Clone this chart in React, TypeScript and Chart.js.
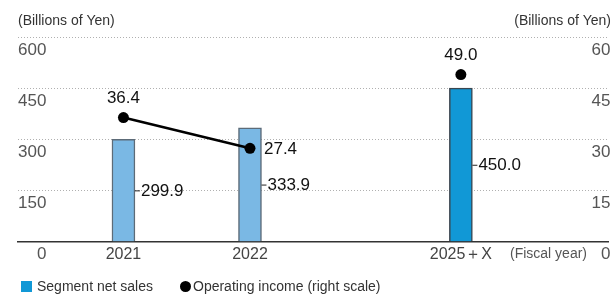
import React, { useEffect, useRef } from "react";
import { Chart, registerables } from "chart.js";

Chart.register(...registerables);

const categories = ["2021", "2022", "2025＋X"];
const salesValues = [299.9, 333.9, 450.0];
const incomeValues = [36.4, 27.4, 49.0];
// x-axis tick labels (blank slots give the uneven spacing of the fiscal years)
const tickLabels = ["", "", "2021", "", "", "2022", "", "", "", "", "2025＋X", "", "", ""];
const leftTicks = [0, 150, 300, 450, 600];
const rightTicks = [0, 15, 30, 45, 60];

const FONT = "'Liberation Sans', Arial, sans-serif";
const LIGHT = "#7ab8e4";
const DARK = "#1198d6";

export default function App() {
  const ref = useRef<HTMLCanvasElement | null>(null);

  useEffect(() => {
    document.body.style.margin = "0";
    const canvas = ref.current;
    if (!canvas) return;

    const slotIndex = categories.map((c) => tickLabels.indexOf(c));
    const salesData: (number | null)[] = tickLabels.map(() => null);
    const actualIncome: (number | null)[] = tickLabels.map(() => null);
    const planIncome: (number | null)[] = tickLabels.map(() => null);
    const barColors: string[] = tickLabels.map(() => LIGHT);
    const barBorders: string[] = tickLabels.map(() => "#5c6b78");
    categories.forEach((c, i) => {
      const s = slotIndex[i];
      salesData[s] = salesValues[i];
      if (c.includes("X")) {
        planIncome[s] = incomeValues[i];
        barColors[s] = DARK;
        barBorders[s] = "#3a4650";
      } else {
        actualIncome[s] = incomeValues[i];
      }
    });
    const incomeLabelPos = ["above", "right", "above"];

    const labelsPlugin = {
      id: "customLabels",
      afterDraw(chart: any) {
        const ctx = chart.ctx;
        ctx.save();
        const barMeta = chart.getDatasetMeta(2);
        categories.forEach((c, i) => {
          const el = barMeta.data[slotIndex[i]];
          const p = el.getProps(["x", "y", "base", "width"], true);
          const right = p.x + p.width / 2;
          const midY = (p.y + p.base) / 2;
          ctx.strokeStyle = "#222";
          ctx.lineWidth = 1;
          ctx.beginPath();
          ctx.moveTo(right, midY + 0.5);
          ctx.lineTo(right + 5, midY + 0.5);
          ctx.stroke();
          ctx.fillStyle = "#111";
          ctx.font = `17px ${FONT}`;
          ctx.textAlign = "left";
          ctx.textBaseline = "middle";
          ctx.fillText(salesValues[i].toFixed(1), right + 6, midY + 1);
        });
        categories.forEach((c, i) => {
          const meta = chart.getDatasetMeta(c.includes("X") ? 1 : 0);
          const el = meta.data[slotIndex[i]];
          const p = el.getProps(["x", "y"], true);
          ctx.fillStyle = "#111";
          ctx.font = `17px ${FONT}`;
          ctx.textBaseline = "middle";
          if (incomeLabelPos[i] === "above") {
            ctx.textAlign = "center";
            ctx.fillText(incomeValues[i].toFixed(1), p.x, p.y - 19);
          } else {
            ctx.textAlign = "left";
            ctx.fillText(incomeValues[i].toFixed(1), p.x + 14, p.y + 1);
          }
        });
        ctx.fillStyle = "#333";
        ctx.font = `14px ${FONT}`;
        ctx.textBaseline = "middle";
        ctx.textAlign = "left";
        ctx.fillText("(Billions of Yen)", 18, 21);
        ctx.textAlign = "right";
        ctx.fillText("(Billions of Yen)", 611, 21);
        ctx.textAlign = "left";
        ctx.fillStyle = "#555";
        ctx.font = `14px ${FONT}`;
        ctx.fillText("(Fiscal year)", 510, 254);
        ctx.fillStyle = DARK;
        ctx.fillRect(21, 281, 11, 11);
        ctx.fillStyle = "#333";
        ctx.fillText("Segment net sales", 37, 287);
        ctx.fillStyle = "#000";
        ctx.beginPath();
        ctx.arc(185.5, 286.5, 5.5, 0, Math.PI * 2);
        ctx.fill();
        ctx.fillStyle = "#333";
        ctx.fillText("Operating income (right scale)", 193, 287);
        ctx.restore();
      },
    };

    const chart = new Chart(canvas, {
      type: "bar",
      data: {
        labels: tickLabels,
        datasets: [
          {
            type: "line",
            label: "Operating income (right scale)",
            data: actualIncome,
            yAxisID: "y1",
            borderColor: "#000",
            backgroundColor: "#000",
            borderWidth: 2.5,
            pointRadius: 5.5,
            pointBackgroundColor: "#000",
            pointBorderWidth: 0,
            spanGaps: true,
            order: 0,
          } as any,
          {
            type: "line",
            label: "Operating income plan",
            data: planIncome,
            yAxisID: "y1",
            borderColor: "#000",
            backgroundColor: "#000",
            borderWidth: 0,
            showLine: false,
            pointRadius: 5.5,
            pointBackgroundColor: "#000",
            pointBorderWidth: 0,
            order: 0,
          } as any,
          {
            type: "bar",
            label: "Segment net sales",
            data: salesData,
            yAxisID: "y",
            backgroundColor: barColors,
            borderColor: barBorders,
            borderWidth: 1.5,
            barThickness: 23,
            order: 1,
          } as any,
        ],
      },
      options: {
        responsive: false,
        animation: false,
        layout: { padding: { left: 18, right: 0, top: 37, bottom: 28 } },
        plugins: { legend: { display: false }, tooltip: { enabled: false } },
        scales: {
          x: {
            grid: { display: false, drawTicks: false },
            border: { display: true, color: "#333", width: 1.5 },
            ticks: {
              autoSkip: false,
              maxRotation: 0,
              padding: 3,
              color: "#444",
              font: { family: FONT, size: 16 },
            },
          },
          y: {
            position: "left",
            min: 0,
            max: 600,
            afterBuildTicks: (axis: any) => {
              axis.ticks = leftTicks.map((v) => ({ value: v }));
            },
            grid: { color: "#b0b0b0", lineWidth: 1, drawTicks: false },
            border: { display: false, dash: [1, 2] },
            ticks: {
              mirror: true,
              crossAlign: "far",
              padding: 0,
              labelOffset: 13,
              color: "#555",
              font: { family: FONT, size: 17 },
            },
          } as any,
          y1: {
            position: "right",
            min: 0,
            max: 60,
            afterBuildTicks: (axis: any) => {
              axis.ticks = rightTicks.map((v) => ({ value: v }));
            },
            grid: { display: false, drawTicks: false },
            border: { display: false },
            ticks: {
              mirror: true,
              padding: 2,
              labelOffset: 13,
              color: "#555",
              font: { family: FONT, size: 17 },
            },
          } as any,
        },
      },
      plugins: [labelsPlugin],
    });

    return () => chart.destroy();
  }, []);

  return (
    <div style={{ width: 614, height: 295 }}>
      <canvas ref={ref} width={614} height={295} />
    </div>
  );
}
